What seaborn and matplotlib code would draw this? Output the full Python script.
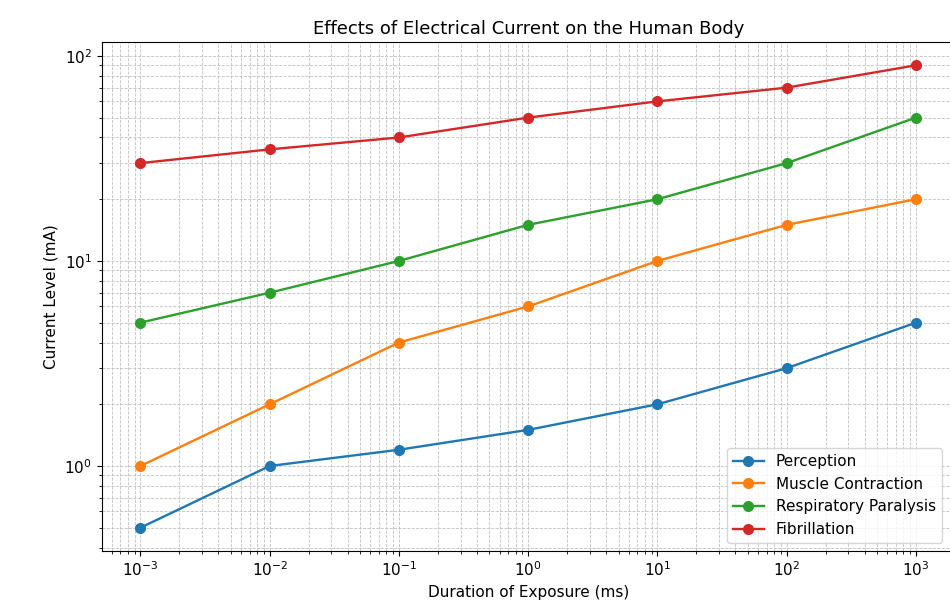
import pandas as pd
import matplotlib
matplotlib.use("Agg")
import matplotlib.pyplot as plt
import seaborn as sns

# Data
duration = [1e-3, 1e-2, 1e-1, 1e0, 1e1, 1e2, 1e3]
perception = [0.5, 1, 1.2, 1.5, 2, 3, 5]
muscle = [1, 2, 4, 6, 10, 15, 20]
respiratory = [5, 7, 10, 15, 20, 30, 50]
fibrillation = [30, 35, 40, 50, 60, 70, 90]
effects = ["Perception", "Muscle Contraction", "Respiratory Paralysis", "Fibrillation"]

rows = []
for name, vals in zip(effects, [perception, muscle, respiratory, fibrillation]):
    for d, v in zip(duration, vals):
        rows.append({"Duration": d, "Current": v, "Effect": name})
df = pd.DataFrame(rows)

plt.rcParams["font.size"] = 11

fig = plt.figure(figsize=(9.5, 6.02), dpi=100)
# right edge runs slightly past the canvas, as in the reference
ax = fig.add_axes([0.107, 0.085, 0.898, 0.845])

sns.lineplot(data=df, x="Duration", y="Current", hue="Effect", hue_order=effects,
             marker="o", markersize=8, markeredgewidth=0, linewidth=1.7,
             palette="tab10", ax=ax)

ax.set_xscale("log")
ax.set_yscale("log")
ax.grid(True, which="both", linestyle="--", linewidth=0.6, color="#c0c0c0")
ax.set_title("Effects of Electrical Current on the Human Body", fontsize=13)
ax.set_xlabel("Duration of Exposure (ms)")
ax.set_ylabel("Current Level (mA)")
ax.legend(loc="lower right", bbox_to_anchor=(0.994, 0.0))

fig.savefig("out.png", dpi=100)
